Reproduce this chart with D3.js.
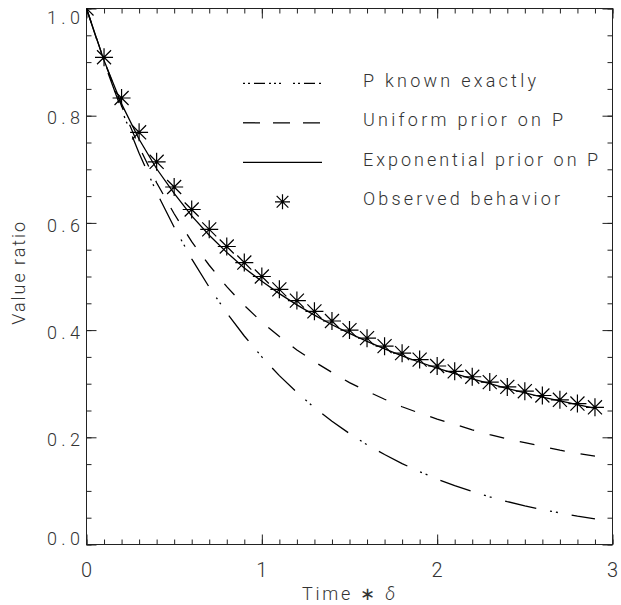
<!DOCTYPE html>
<html>
<head>
<meta charset="utf-8">
<script src="https://cdn.jsdelivr.net/npm/d3@7"></script>
<style>
  body { margin: 0; background: #fff; }
  text { font-family: Roboto, "Liberation Sans", Arial, sans-serif; font-weight: 300; fill: #333; }
</style>
</head>
<body>
<div id="chart"></div>
<script>
// time axis (units of delta), one sample every 0.1
var times = [0.0,0.1,0.2,0.3,0.4,0.5,0.6,0.7,0.8,0.9,1.0,1.1,1.2,1.3,1.4,1.5,1.6,1.7,1.8,1.9,
             2.0,2.1,2.2,2.3,2.4,2.5,2.6,2.7,2.8,2.9]

// value ratio curves
var knownExactly = [1.000,0.900,0.811,0.730,0.657,0.592,0.533,0.480,0.432,0.389,0.350,0.315,0.284,0.255,0.230,
                    0.207,0.186,0.168,0.151,0.136,0.122,0.110,0.099,0.089,0.080,0.072,0.065,0.059,0.053,0.048]
var uniformPrior = [1.000,0.903,0.818,0.742,0.675,0.617,0.565,0.521,0.481,0.446,0.415,0.388,0.363,0.341,0.321,
                    0.302,0.286,0.271,0.257,0.245,0.234,0.224,0.214,0.205,0.197,0.190,0.183,0.176,0.170,0.165]
var exponentialPrior = [1.000,0.903,0.822,0.756,0.701,0.655,0.613,0.577,0.545,0.516,0.491,0.468,0.447,0.428,0.410,
                        0.394,0.379,0.365,0.352,0.340,0.329,0.319,0.309,0.300,0.291,0.283,0.275,0.268,0.261,0.254]
var observed = [1.000,0.909,0.833,0.769,0.714,0.667,0.625,0.588,0.556,0.526,0.500,0.476,0.455,0.435,0.417,
                0.400,0.385,0.370,0.357,0.345,0.333,0.323,0.313,0.303,0.294,0.286,0.278,0.270,0.263,0.256]

// ticks
var xMajorTicks = [0,1,2,3]
var xTickLabels = ["0","1","2","3"]
var yMajorTicks = [0.0,0.2,0.4,0.6,0.8,1.0]
var yTickLabels = ["0.0","0.2","0.4","0.6","0.8","1.0"]

var legendLabels = ["P known exactly","Uniform prior on P","Exponential prior on P","Observed behavior"]

var width = 621, height = 605

let svg = d3.select("#chart")
    .append("svg")
    .attr("width", width)
    .attr("height", height)

// plot window
var x = d3.scaleLinear().domain([0,3]).range([86.5,612.5])
var y = d3.scaleLinear().domain([0,1]).range([544.5,8.5])

svg.append("defs").append("clipPath")
    .attr("id","plotclip")
    .append("rect")
    .attr("x",x(0)).attr("y",y(1))
    .attr("width",x(3)-x(0)).attr("height",y(0)-y(1))

var xMinor = d3.range(0,31).map(function(i) { return i/10 })
var yMinor = d3.range(0,21).map(function(i) { return i/20 })

// ticks on all four sides, pointing inward
function drawAxis(axis, transform) {
    var g = svg.append("g")
        .attr("transform", transform)
        .call(axis)
    g.select(".domain").remove()
    g.selectAll(".tick line").attr("stroke","#222")
    g.selectAll(".tick text").remove()
}
drawAxis(d3.axisBottom(x).tickValues(xMinor).tickSize(-5), `translate(0,${y(0)})`)
drawAxis(d3.axisBottom(x).tickValues(xMajorTicks).tickSize(-10), `translate(0,${y(0)})`)
drawAxis(d3.axisTop(x).tickValues(xMinor).tickSize(-5), `translate(0,${y(1)})`)
drawAxis(d3.axisTop(x).tickValues(xMajorTicks).tickSize(-10), `translate(0,${y(1)})`)
drawAxis(d3.axisLeft(y).tickValues(yMinor).tickSize(-5), `translate(${x(0)},0)`)
drawAxis(d3.axisLeft(y).tickValues(yMajorTicks).tickSize(-10), `translate(${x(0)},0)`)
drawAxis(d3.axisRight(y).tickValues(yMinor).tickSize(-5), `translate(${x(3)},0)`)
drawAxis(d3.axisRight(y).tickValues(yMajorTicks).tickSize(-10), `translate(${x(3)},0)`)

// frame
svg.append("rect")
    .attr("x",x(0)).attr("y",y(1))
    .attr("width",x(3)-x(0)).attr("height",y(0)-y(1))
    .attr("fill","none")
    .attr("stroke","#222")
    .attr("stroke-width",1)

// tick labels
svg.append("g").selectAll("text")
    .data(yMajorTicks)
    .enter().append("text")
        .attr("x", 80)
        .attr("y", function(d) { return Math.max(17, Math.min(538, y(d)+2)) + 6.6 })
        .attr("text-anchor","end")
        .attr("textLength",33)
        .attr("lengthAdjust","spacing")
        .style("font-size","18px")
        .text(function(d,i) { return yTickLabels[i] })

svg.append("g").selectAll("text")
    .data(xMajorTicks)
    .enter().append("text")
        .attr("x", function(d) { return x(d) })
        .attr("y", 576.7)
        .attr("text-anchor","middle")
        .style("font-size","20px")
        .text(function(d,i) { return xTickLabels[i] })

// axis titles
var xTitle = svg.append("text")
    .attr("x", 348.5)
    .attr("y", 599.5)
    .attr("text-anchor","middle")
    .attr("textLength",93)
    .attr("lengthAdjust","spacing")
    .style("font-size","18px")
xTitle.append("tspan").text("Time \u2217 ")
xTitle.append("tspan").style("font-style","italic").text("\u03b4")

svg.append("text")
    .attr("transform","translate(25,273.3) rotate(-90)")
    .attr("text-anchor","middle")
    .attr("textLength",103)
    .attr("lengthAdjust","spacing")
    .style("font-size","18px")
    .text("Value ratio")

// curves
var plot = svg.append("g").attr("clip-path","url(#plotclip)")

function curve(values) {
    return d3.line()
        .x(function(d,i) { return x(times[i]) })
        .y(function(d) { return y(d) })(values)
}

plot.append("path")
    .attr("d", curve(knownExactly))
    .attr("fill","none").attr("stroke","#000").attr("stroke-width",1.3)
    .attr("stroke-dasharray","32,14,2,4,2,14")

plot.append("path")
    .attr("d", curve(uniformPrior))
    .attr("fill","none").attr("stroke","#000").attr("stroke-width",1.3)
    .attr("stroke-dasharray","15,16")

plot.append("path")
    .attr("d", curve(exponentialPrior))
    .attr("fill","none").attr("stroke","#000").attr("stroke-width",1.3)

// asterisk symbol
function star(r) {
    var s = r*0.78
    return `M${-r},0H${r}M0,${-r}V${r}M${-s},${-s}L${s},${s}M${-s},${s}L${s},${-s}`
}

plot.append("g").selectAll("path")
    .data(observed)
    .enter().append("path")
        .attr("transform", function(d,i) { return `translate(${x(times[i])},${y(d)})` })
        .attr("d", star(9))
        .attr("fill","none").attr("stroke","#000").attr("stroke-width",1.2)

// legend
var legendX1 = 243, legendX2 = 322, legendTextX = 363
var legendRows = [83.3,122.8,162.3,201.8]
var legendTextWidths = [173,200,235,197]
var legendDash = ["2,3,2,4,11,4,2,3,2,3,2,12","17,13",null]

legendDash.forEach(function(dash,i) {
    svg.append("line")
        .attr("x1",legendX1).attr("x2",legendX2)
        .attr("y1",legendRows[i]).attr("y2",legendRows[i])
        .attr("stroke","#000").attr("stroke-width",1.3)
        .attr("stroke-dasharray",dash)
})
svg.append("path")
    .attr("transform",`translate(${(legendX1+legendX2)/2},${legendRows[3]})`)
    .attr("d", star(7.5))
    .attr("fill","none").attr("stroke","#000").attr("stroke-width",1.2)

svg.append("g").selectAll("text")
    .data(legendLabels)
    .enter().append("text")
        .attr("x", legendTextX)
        .attr("y", function(d,i) { return legendRows[i]+3.5 })
        .attr("textLength", function(d,i) { return legendTextWidths[i] })
        .attr("lengthAdjust","spacing")
        .style("font-size","18px")
        .text(function(d) { return d })
</script>
</body>
</html>
